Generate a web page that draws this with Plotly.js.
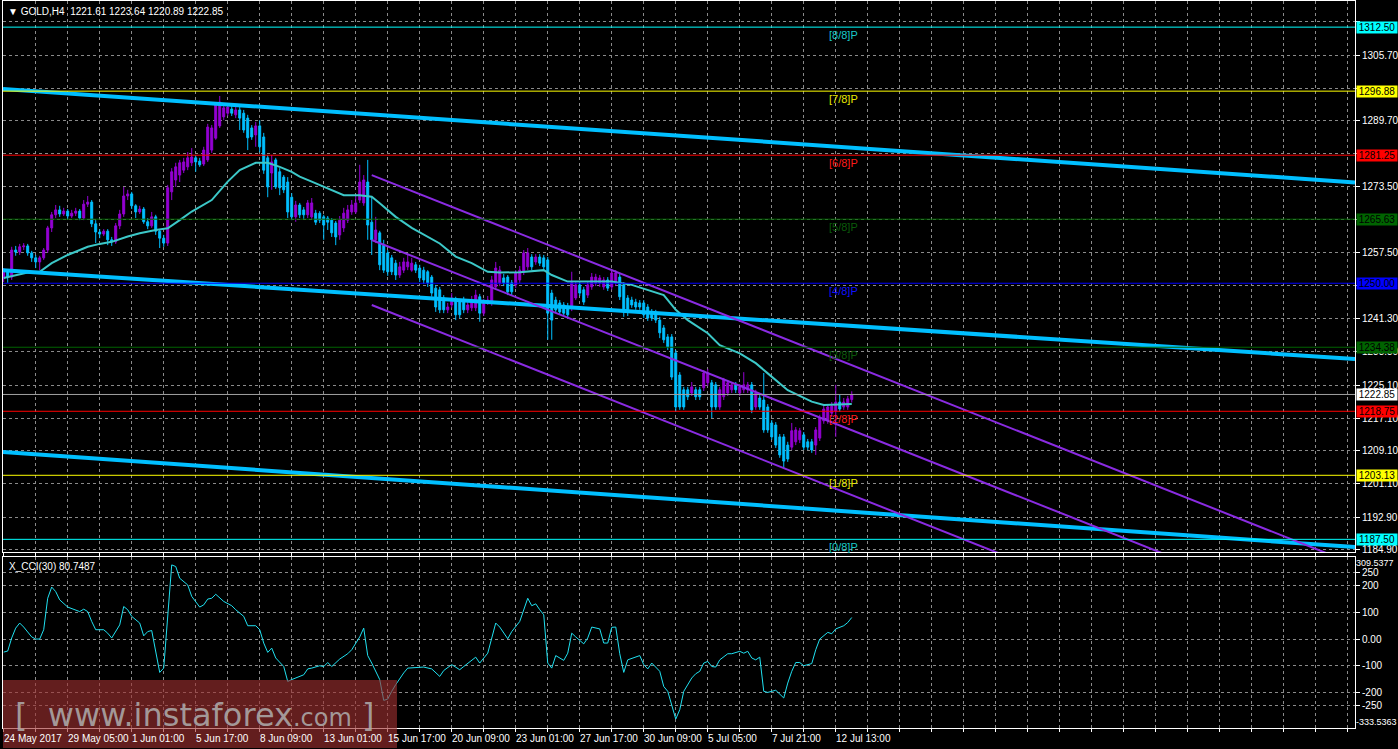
<!DOCTYPE html>
<html><head><meta charset="utf-8">
<script src="https://cdn.plot.ly/plotly-3.0.1.min.js"></script>
<style>html,body{margin:0;padding:0;background:#000;overflow:hidden}#chart{width:1398px;height:749px}</style>
</head><body><div id="chart"></div>
<script>
// ---------------- DATA ----------------
const symbolName = 'GOLD,H4';
const openP = [
1251.3,1252.8,1251.5,1258.1,1257.6,1258.9,1259.1,1257.4,1256.2,1255.2,
1256.2,1258.1,1263.5,1266.7,1267.9,1266.9,1267.6,1266.4,1267.1,1267.6,
1265.9,1269.3,1269.8,1264.5,1262.5,1262.0,1262.7,1260.6,1260.1,1264.0,
1266.9,1271.3,1271.8,1268.9,1267.4,1268.1,1265.0,1264.0,1266.2,1262.7,
1261.0,1259.8,1272.3,1275.2,1276.4,1277.6,1278.4,1279.4,1280.6,1279.8,
1279.1,1280.1,1282.5,1285.4,1288.4,1290.6,1291.5,1292.5,1291.1,1292.3,
1291.5,1290.3,1287.9,1286.2,1288.4,1285.7,1280.6,1276.9,1280.1,1277.2,
1275.9,1274.7,1271.0,1266.2,1269.1,1267.9,1266.7,1266.2,1267.1,1267.1,
1266.2,1265.9,1265.4,1264.7,1261.8,1263.5,1265.4,1267.4,1267.4,1270.3,
1269.6,1274.7,1264.9,1260.6,1262.3,1259.3,1257.4,1256.2,1254.9,1252.0,
1253.2,1254.0,1253.2,1254.5,1253.7,1253.2,1252.8,1251.5,1248.8,1248.4,
1246.4,1243.5,1244.7,1245.9,1245.4,1245.9,1243.5,1244.0,1244.0,1246.7,
1242.7,1245.4,1245.2,1249.1,1250.1,1251.3,1251.5,1250.1,1249.6,1250.8,
1252.8,1254.0,1256.4,1255.2,1256.4,1256.2,1255.7,1247.6,1245.9,1245.2,
1244.7,1244.2,1244.0,1246.4,1249.6,1248.4,1247.1,1249.1,1250.1,1250.1,
1249.1,1250.8,1249.1,1250.1,1251.5,1249.6,1246.4,1245.9,1245.4,1245.2,
1245.2,1244.2,1243.0,1242.7,1241.0,1239.1,1236.9,1236.9,1233.0,1227.6,
1224.0,1224.0,1223.2,1224.0,1224.0,1224.5,1225.7,1225.7,1225.2,1219.8,
1222.3,1223.2,1224.0,1225.2,1223.2,1224.0,1224.0,1225.2,1219.8,1222.0,
1221.5,1219.8,1215.9,1215.4,1212.5,1212.5,1210.5,1210.0,1211.3,1211.8,
1213.0,1211.3,1211.3,1210.5,1212.2,1216.4,1216.4,1218.3,1218.8,1221.0,
1219.8,1219.8,1221.61];
const highP = [
1253.7,1253.2,1258.9,1259.1,1259.6,1259.8,1259.6,1257.9,1256.9,1256.7,
1258.6,1264.0,1267.4,1269.1,1268.9,1268.4,1268.1,1267.9,1268.4,1268.1,
1270.3,1271.3,1270.3,1265.4,1263.2,1263.2,1263.2,1261.3,1264.7,1267.9,
1273.5,1272.8,1272.3,1269.3,1268.9,1268.6,1265.9,1267.4,1266.7,1263.2,
1261.8,1274.0,1278.1,1279.4,1280.1,1280.6,1282.0,1283.0,1281.3,1280.6,
1283.3,1288.9,1288.6,1294.2,1295.7,1293.7,1294.0,1293.3,1293.3,1293.0,
1292.3,1291.1,1288.6,1289.4,1289.8,1286.7,1281.3,1281.3,1280.6,1278.1,
1276.4,1275.9,1272.0,1270.1,1269.6,1268.6,1270.3,1270.8,1267.9,1267.6,
1266.7,1266.4,1265.9,1265.2,1266.4,1268.4,1269.1,1270.3,1271.5,1278.9,
1276.4,1280.1,1271.0,1266.2,1262.8,1260.6,1258.1,1256.9,1255.7,1255.2,
1256.2,1256.9,1256.2,1255.2,1254.5,1254.0,1253.2,1252.0,1249.6,1249.1,
1247.1,1245.2,1247.6,1246.7,1246.2,1246.7,1245.4,1246.9,1248.4,1247.4,
1246.2,1246.9,1251.8,1255.2,1254.2,1252.3,1252.0,1250.8,1253.2,1254.2,
1258.1,1258.6,1257.1,1257.1,1257.1,1256.9,1256.4,1248.4,1246.7,1245.9,
1245.4,1245.2,1252.8,1250.3,1250.3,1249.1,1250.3,1252.5,1252.3,1252.0,
1251.5,1251.5,1253.5,1253.2,1252.3,1250.3,1247.1,1246.7,1246.2,1245.9,
1245.9,1244.9,1243.7,1243.5,1241.8,1239.8,1237.6,1237.6,1233.7,1228.3,
1224.7,1224.7,1225.9,1224.7,1224.7,1228.8,1229.1,1226.4,1225.9,1224.7,
1226.9,1226.4,1225.9,1225.9,1225.4,1228.3,1225.9,1225.9,1224.0,1222.7,
1228.1,1220.5,1216.6,1216.1,1213.2,1213.2,1211.3,1215.9,1214.9,1214.7,
1213.7,1212.0,1212.0,1214.9,1217.9,1220.3,1220.5,1221.0,1225.2,1222.9,
1222.0,1222.5,1223.64];
const lowP = [
1250.3,1250.1,1250.8,1256.7,1256.9,1258.1,1256.7,1255.2,1253.7,1253.2,
1255.7,1257.4,1262.5,1265.9,1266.2,1266.4,1265.7,1265.9,1266.4,1265.4,
1265.4,1268.6,1263.7,1259.8,1261.0,1261.5,1259.3,1259.1,1259.6,1263.2,
1266.2,1270.3,1268.1,1265.9,1266.9,1264.5,1263.2,1263.5,1261.8,1258.6,
1258.9,1259.1,1270.3,1273.5,1274.7,1276.9,1277.6,1278.6,1277.2,1278.4,
1278.6,1279.6,1281.8,1285.0,1287.9,1289.8,1290.8,1290.8,1290.3,1287.4,
1286.7,1282.5,1285.0,1283.3,1282.0,1276.7,1271.0,1272.8,1273.0,1271.5,
1272.0,1265.9,1265.4,1265.0,1265.9,1265.7,1265.9,1265.7,1264.2,1264.7,
1260.6,1263.0,1261.3,1259.3,1260.6,1262.5,1264.7,1266.7,1266.9,1269.6,
1268.9,1260.6,1256.9,1259.8,1253.2,1252.5,1251.8,1252.0,1250.8,1251.3,
1252.5,1253.2,1252.8,1252.5,1250.3,1249.8,1249.1,1246.7,1243.0,1242.7,
1242.7,1242.7,1244.0,1241.0,1241.5,1242.7,1242.7,1243.2,1243.2,1240.6,
1242.0,1244.7,1244.5,1248.4,1249.3,1249.3,1247.1,1246.9,1248.8,1250.1,
1252.0,1253.2,1253.2,1254.5,1254.2,1253.2,1236.2,1236.2,1242.7,1242.3,
1242.0,1241.5,1243.2,1245.9,1246.9,1244.7,1246.4,1248.4,1249.3,1249.1,
1248.4,1248.1,1248.4,1249.3,1245.9,1241.8,1242.0,1244.0,1243.5,1243.5,
1241.5,1240.8,1240.8,1240.3,1236.6,1235.4,1233.7,1226.4,1218.6,1219.1,
1219.1,1221.5,1222.5,1221.5,1221.5,1223.7,1224.9,1217.1,1219.1,1219.1,
1221.5,1222.5,1223.2,1223.2,1222.5,1223.2,1223.2,1218.3,1219.1,1219.1,
1213.5,1213.5,1211.8,1209.8,1207.4,1204.9,1206.4,1209.3,1210.5,1211.0,
1209.3,1209.3,1208.6,1208.1,1211.5,1215.7,1215.7,1217.4,1212.5,1218.6,
1219.1,1219.1,1220.89];
const closeP = [
1252.8,1251.5,1258.1,1257.6,1258.9,1259.1,1257.4,1256.2,1255.2,1256.2,
1258.1,1263.5,1266.7,1267.9,1266.9,1267.6,1266.4,1267.1,1267.6,1265.9,
1269.3,1269.8,1264.5,1262.5,1262.0,1262.7,1260.6,1260.1,1264.0,1266.9,
1271.3,1271.8,1268.9,1267.4,1268.1,1265.0,1264.0,1266.2,1262.7,1261.0,
1259.8,1273.3,1277.2,1278.4,1279.4,1279.6,1280.6,1280.8,1279.6,1278.9,
1282.5,1288.1,1287.9,1293.5,1294.2,1292.8,1293.0,1291.5,1292.3,1290.3,
1287.4,1285.5,1285.7,1288.4,1283.3,1277.6,1273.5,1279.6,1273.5,1273.3,
1272.8,1267.4,1266.2,1269.1,1266.7,1266.7,1269.6,1269.6,1264.9,1265.4,
1264.2,1264.9,1262.3,1261.3,1265.4,1267.1,1267.9,1269.1,1269.6,1274.7,
1275.2,1264.2,1260.6,1263.0,1254.5,1253.2,1252.8,1252.8,1252.0,1254.0,
1255.2,1255.2,1254.9,1253.2,1251.3,1250.8,1250.1,1247.6,1244.2,1243.5,
1243.5,1244.2,1246.4,1242.3,1242.3,1243.5,1244.7,1245.9,1247.1,1242.7,
1245.4,1245.9,1250.8,1253.7,1253.2,1250.1,1247.9,1247.9,1252.5,1253.2,
1257.4,1257.4,1254.0,1256.4,1254.9,1254.0,1242.7,1241.0,1243.5,1243.0,
1242.7,1242.3,1250.1,1249.6,1247.6,1245.4,1249.6,1251.5,1251.5,1251.3,
1250.8,1248.8,1252.5,1252.5,1246.7,1243.0,1243.0,1244.7,1244.2,1244.2,
1242.3,1241.5,1241.5,1241.0,1237.9,1236.2,1234.5,1227.1,1219.8,1219.8,
1219.8,1222.3,1224.7,1222.3,1222.3,1228.1,1228.1,1219.8,1219.8,1224.0,
1226.4,1225.7,1225.2,1224.0,1224.7,1225.2,1225.2,1219.1,1223.2,1219.8,
1214.2,1214.2,1212.5,1210.5,1208.1,1206.6,1207.1,1214.0,1214.2,1214.0,
1210.0,1210.0,1209.3,1214.2,1217.1,1219.3,1219.8,1220.0,1221.0,1219.3,
1221.0,1221.8,1222.85];

// moving average (read at selected bars)
const maBars = [0,3,6,9,12,16,21,24,27,31,34,38,41,44,47,52,56,59,63,66,69,72,74,77,81,85,89,92,94,98,102,109,113,117,121,124,129,135,137,141,146,152,157,161,165,168,171,176,179,184,188,191,196,202,205,212];
const maValues = [1251.3,1252.0,1252.6,1252.8,1254.9,1256.9,1258.9,1259.6,1260.1,1261.4,1262.2,1263.0,1263.4,1265.4,1267.5,1270.3,1274.8,1277.6,1279.4,1279.4,1278.4,1277.2,1276.0,1274.8,1273.2,1271.5,1271.5,1271.1,1269.5,1266.2,1263.5,1259.7,1256.5,1254.9,1252.8,1252.6,1252.7,1253.2,1252.0,1250.4,1250.4,1250.4,1249.6,1248.4,1247.1,1243.5,1241.0,1237.8,1234.9,1232.9,1230.5,1228.0,1223.9,1221.1,1220.3,1220.5];

// CCI(30)
const cciBars = [0,1,2,3,4,5,7,8,9,10,11,12,13,14,16,17,19,20,21,22,23,25,26,27,29,30,31,32,34,35,36,37,38,39,40,41,42,43,44,46,47,49,50,51,52,53,55,57,58,60,61,63,64,65,66,67,68,70,71,72,74,75,76,77,79,80,81,82,84,86,87,89,90,91,92,94,95,96,97,98,100,101,105,107,109,110,112,114,115,118,119,121,123,124,126,127,129,130,131,132,133,134,135,136,137,138,140,141,142,143,145,146,147,149,150,151,152,153,154,155,156,159,160,161,162,164,165,166,167,168,169,170,172,173,174,175,176,177,178,179,181,182,184,185,186,187,188,189,190,191,193,195,196,197,198,199,200,202,203,204,206,207,208,210,211,212];
const cciValues = [-49,-45,4,41,60,45,8,0,0,35,153,195,178,147,120,115,103,112,103,66,35,35,22,4,53,122,110,85,60,12,28,32,-40,-125,-109,85,278,272,228,203,160,120,128,150,153,168,141,125,110,85,50,50,35,-15,-50,-34,-71,-103,-159,-152,-140,-134,-112,-109,-100,-103,-88,-103,-75,-55,-40,8,41,-62,-90,-152,-230,-225,-196,-171,-127,-109,-105,-112,-140,-118,-96,-115,-103,-68,-90,-53,60,45,1,28,66,112,153,125,132,110,91,-90,-109,-62,-80,-53,22,8,-18,4,45,38,-15,-15,44,45,-55,-125,-78,-62,-96,-112,-90,-121,-178,-196,-246,-300,-265,-196,-146,-130,-121,-90,-84,-103,-105,-78,-55,-55,-46,-53,-46,-71,-78,-68,-196,-200,-192,-221,-165,-121,-88,-88,-100,-92,-40,0,25,20,38,50,62,80.7487];
const cciMax = 309.5377, cciMin = -333.5363;

// Murrey Math levels
const murreyLevels = [1312.50,1296.88,1281.25,1265.63,1250.00,1234.38,1218.75,1203.13,1187.50];
const murreyNames = ['[8/8]P','[7/8]P','[6/8]P','[5/8]P','[4/8]P','[3/8]P','[2/8]P','[1/8]P','[0/8]P'];

// regression channel (thick blue), endpoints in bars / price
const regBars = [-0.175, 337.8];
const regUpper = [1297.4, 1274.6];
const regMiddle = [1253.2, 1231.5];
const regLower = [1208.8, 1185.6];

// purple channel
const chBars = [92, 338];
const chUpper = [1276.4, 1181.3];
const chMiddle = [1260.55, 1165.4];
const chLower = [1244.7, 1149.6];

// axis ticks (labels hidden behind level boxes are blank)
const priceTicks = [1313.8,1305.7,1297.6,1289.7,1281.6,1273.5,1265.5,1257.5,1249.4,1241.3,1233.3,1225.1,1217.1,1209.1,1201.1,1192.9,1184.9];
const priceTickText = ['','1305.70','','1289.70','','1273.50','','1257.50','','1241.30','1233.30','1225.10','1217.10','1209.10','1201.10','1192.90','1184.90'];
const cciTicks = [250,200,100,0,-100,-200,-250];
const cciTickText = ['250','200','100','0.00','-100','-200','-250'];
const timeLabelBars = [0,16,32,48,64,80,96,112,128,144,160,176,192,208];
const timeLabels = ['24 May 2017','29 May 05:00','1 Jun 01:00','5 Jun 17:00','8 Jun 09:00','13 Jun 01:00','15 Jun 17:00','20 Jun 09:00','23 Jun 01:00','27 Jun 17:00','30 Jun 09:00','5 Jul 05:00','7 Jul 21:00','12 Jul 13:00'];

// ---------------- STYLE ----------------
const FONT = 'Liberation Sans, Arial, sans-serif';
const levelColors = ['#00ffff','#ffff00','#ff0000','#006400','#0000ff','#006400','#ff0000','#ffff00','#00ffff'];
const levelTextColors = ['#19c8c8','#e8e800','#ff1a1a','#0a5a0a','#1010ff','#0a5a0a','#ff1a1a','#e8e800','#19c8c8'];
const GRID = '#8a8a8a';
const N = openP.length;
const bars = openP.map((_, i) => i);
const gridBars = [];
for (let b = 0; b <= 336; b += 8) gridBars.push(b);
const lastClose = closeP[N - 1];

const traces = [
  {type:'candlestick', x:bars, open:openP, high:highP, low:lowP, close:closeP,
   xaxis:'x', yaxis:'y', whiskerwidth:0, hoverinfo:'skip',
   increasing:{line:{color:'#9400d3', width:1}, fillcolor:'#9400d3'},
   decreasing:{line:{color:'#00bfff', width:1}, fillcolor:'#00bfff'}},
  {type:'scatter', mode:'lines', x:maBars, y:maValues, xaxis:'x', yaxis:'y',
   line:{color:'#3cc8c8', width:2}, hoverinfo:'skip'},
  {type:'scatter', mode:'lines', x:regBars, y:regUpper, line:{color:'#00bfff', width:4}, hoverinfo:'skip'},
  {type:'scatter', mode:'lines', x:regBars, y:regMiddle, line:{color:'#00bfff', width:4}, hoverinfo:'skip'},
  {type:'scatter', mode:'lines', x:regBars, y:regLower, line:{color:'#00bfff', width:4}, hoverinfo:'skip'},
  {type:'scatter', mode:'lines', x:chBars, y:chUpper, line:{color:'#8a2be2', width:2}, hoverinfo:'skip'},
  {type:'scatter', mode:'lines', x:chBars, y:chMiddle, line:{color:'#8a2be2', width:2}, hoverinfo:'skip'},
  {type:'scatter', mode:'lines', x:chBars, y:chLower, line:{color:'#8a2be2', width:2}, hoverinfo:'skip'},
  {type:'scatter', mode:'lines', x:cciBars, y:cciValues, xaxis:'x', yaxis:'y2',
   line:{color:'#20e0f0', width:1}, hoverinfo:'skip'}
];

const shapes = [];
murreyLevels.forEach((lv, i) => {
  shapes.push({type:'line', xref:'paper', x0:0, x1:1, yref:'y', y0:lv, y1:lv, layer:'above',
    line:{color:levelColors[i], width:1}});
});
shapes.push({type:'line', xref:'paper', x0:0, x1:1, yref:'y', y0:lastClose, y1:lastClose, layer:'above',
  line:{color:'#a0a0a0', width:1}});

const annotations = [];
murreyLevels.forEach((lv, i) => {
  annotations.push({xref:'x', yref:'y', x:210, y:lv, yshift:-8, text:murreyNames[i], showarrow:false,
    xanchor:'center', yanchor:'middle', font:{family:FONT, size:11, color:levelTextColors[i]}});
  annotations.push({xref:'paper', yref:'y', x:1, y:lv, xshift:1, xanchor:'left', yanchor:'middle',
    text:lv.toFixed(2), showarrow:false, bgcolor:levelColors[i], borderpad:0,
    font:{family:FONT, size:10, color:'#000'}, width:40, height:11});
});
annotations.push({xref:'paper', yref:'y', x:1, y:lastClose, xshift:1, xanchor:'left', yanchor:'middle',
  text:lastClose.toFixed(2), showarrow:false, bgcolor:'#ffffff', borderpad:0,
  font:{family:FONT, size:10, color:'#000'}, width:40, height:11});
annotations.push({xref:'paper', yref:'y2', x:1, y:cciMax, xshift:0, xanchor:'left', yanchor:'top',
  text:cciMax.toFixed(4), showarrow:false, borderpad:0, font:{family:FONT, size:9, color:'#fff'}});
annotations.push({xref:'paper', yref:'y2', x:1, y:cciMin, xshift:0, xanchor:'left', yanchor:'bottom',
  text:cciMin.toFixed(4), showarrow:false, borderpad:0, font:{family:FONT, size:9, color:'#fff'}});
annotations.push({xref:'paper', yref:'paper', x:0, y:1, xshift:3, yshift:-3, xanchor:'left', yanchor:'top',
  showarrow:false, font:{family:FONT, size:10, color:'#fff'},
  text:'\u25BC ' + symbolName + '  ' + openP[N-1].toFixed(2) + ' ' + highP[N-1].toFixed(2) + ' ' + lowP[N-1].toFixed(2) + ' ' + closeP[N-1].toFixed(2)});
annotations.push({xref:'paper', yref:'paper', x:0, y:0.2359, xshift:4, yshift:-2, xanchor:'left', yanchor:'top',
  showarrow:false, font:{family:FONT, size:10, color:'#fff'},
  text:'X_CCI(30) ' + cciValues[cciValues.length-1].toFixed(4)});
timeLabelBars.forEach((b, i) => {
  annotations.push({xref:'x', yref:'paper', x:b, y:0, xshift:-2, yshift:-3, xanchor:'left', yanchor:'top',
    text:timeLabels[i], showarrow:false, font:{family:FONT, size:10, color:'#fff'}});
});

// watermark
shapes.push({type:'rect', xref:'paper', yref:'paper', x0:0, x1:0.2914, y0:-0.0275, y1:0.066,
  fillcolor:'rgb(160,48,48)', opacity:0.62, line:{width:0}, layer:'above'});
annotations.push({xref:'paper', yref:'paper', x:0.1415, y:0.0175, xanchor:'center', yanchor:'middle', showarrow:false,
  text:'[ &nbsp;www.instaforex<span style="font-size:24px">.com</span> ]',
  font:{family:'DejaVu Sans, sans-serif', size:32, color:'rgba(175,175,175,0.85)'}});

const axisFont = {family:FONT, size:10, color:'#ffffff'};
const layout = {
  width:1398, height:749,
  paper_bgcolor:'#000', plot_bgcolor:'#000',
  margin:{l:3, r:43, t:1, b:21},
  showlegend:false, hovermode:false, dragmode:false,
  xaxis:{domain:[0,1], range:[-0.175, 337.8], anchor:'y2',
    tickmode:'array', tickvals:gridBars, showticklabels:false, ticks:'outside', ticklen:3, tickcolor:'#ffffff',
    showgrid:true, gridcolor:GRID, griddash:'3px,3px', gridwidth:1, zeroline:false,
    showline:true, linecolor:'#ffffff', linewidth:1, mirror:'all',
    rangeslider:{visible:false}, fixedrange:true},
  yaxis:{domain:[0.2421,1], range:[1184.41, 1318.88], side:'right', anchor:'x',
    tickmode:'array', tickvals:priceTicks, ticktext:priceTickText,
    ticks:'outside', ticklen:4, tickcolor:'#ffffff', tickfont:axisFont,
    showgrid:true, gridcolor:GRID, griddash:'3px,3px', gridwidth:1, zeroline:false,
    showline:true, linecolor:'#ffffff', linewidth:1, mirror:true, fixedrange:true},
  yaxis2:{domain:[0,0.2359], range:[cciMin, cciMax], side:'right', anchor:'x',
    tickmode:'array', tickvals:cciTicks, ticktext:cciTickText,
    ticks:'outside', ticklen:4, tickcolor:'#ffffff', tickfont:axisFont,
    showgrid:true, gridcolor:GRID, griddash:'3px,3px', gridwidth:1, zeroline:false,
    showline:true, linecolor:'#ffffff', linewidth:1, mirror:true, fixedrange:true},
  shapes:shapes, annotations:annotations
};
Plotly.newPlot('chart', traces, layout, {displayModeBar:false, staticPlot:true});
</script></body></html>
